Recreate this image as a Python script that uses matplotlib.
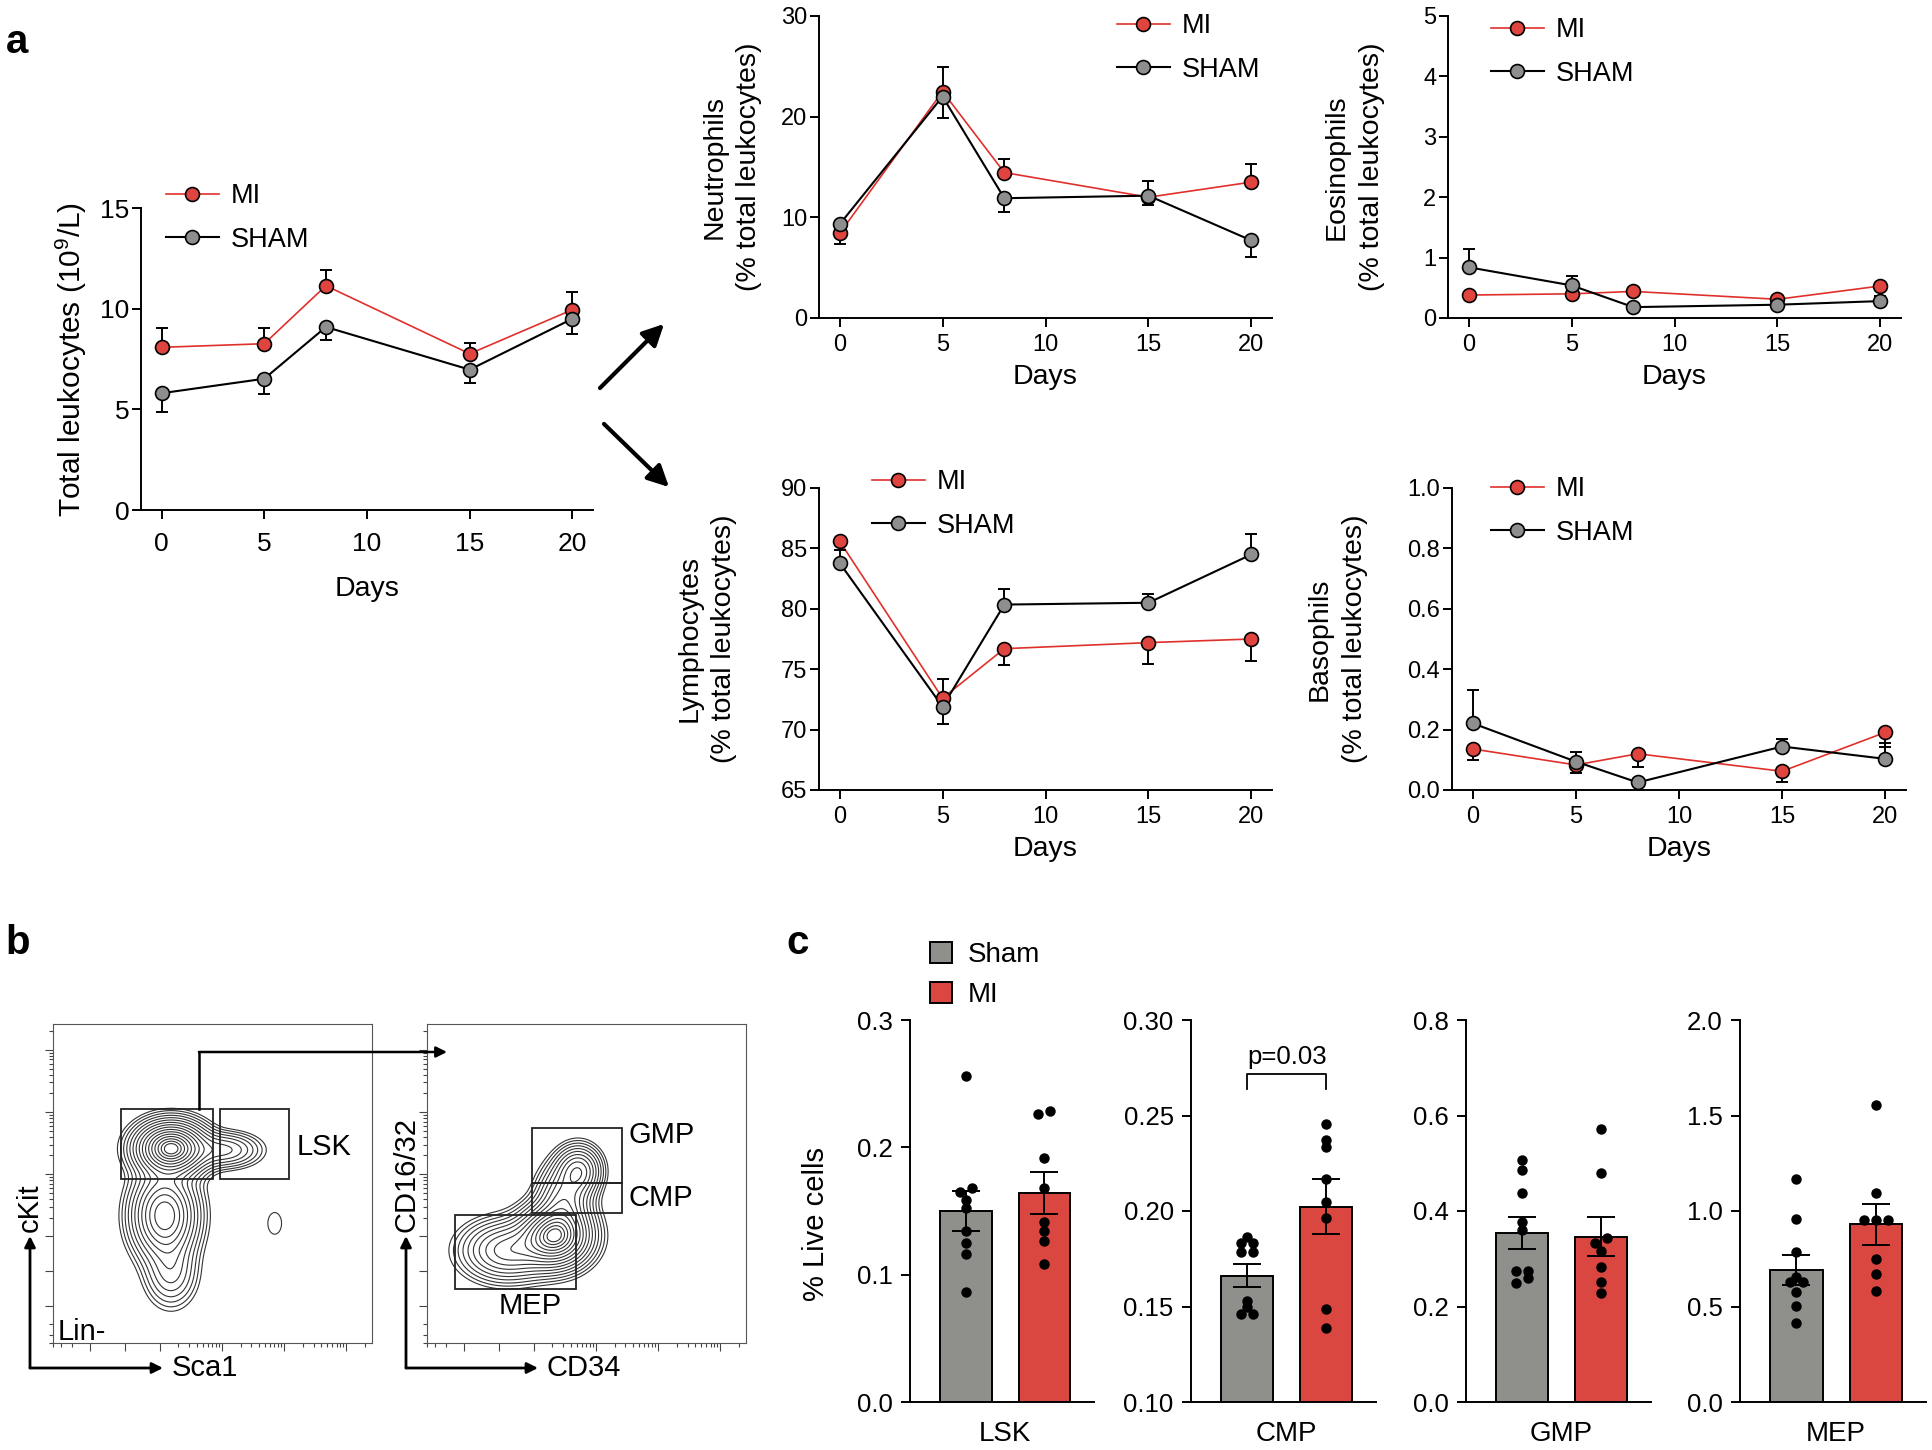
import numpy as np
import matplotlib
matplotlib.use('Agg')
import matplotlib.pyplot as plt
from matplotlib.patches import Rectangle, Patch, FancyArrowPatch
from matplotlib.lines import Line2D

plt.rcParams['font.family'] = ['Liberation Sans', 'DejaVu Sans']
plt.rcParams['mathtext.fontset'] = 'custom'
plt.rcParams['mathtext.rm'] = 'Liberation Sans'
plt.rcParams['mathtext.it'] = 'Liberation Sans:italic'

# ---------------- data ----------------
days = [0, 5, 8, 15, 20]

total_mi = [8.08, 8.26, 11.14, 7.76, 9.95]
total_mi_lo = [0, 0, 0, 0, 0]
total_mi_hi = [0.94, 0.76, 0.80, 0.52, 0.90]
total_sham = [5.80, 6.52, 9.09, 6.97, 9.50]
total_sham_lo = [0.94, 0.77, 0.65, 0.67, 0.74]
total_sham_hi = [0, 0, 0, 0, 0]

neut_mi = [8.4, 22.5, 14.45, 12.0, 13.5]
neut_mi_lo = [1.0, 0, 0, 0.8, 0]
neut_mi_hi = [0, 2.4, 1.3, 0, 1.8]
neut_sham = [9.3, 22.0, 11.9, 12.15, 7.7]
neut_sham_lo = [0, 2.1, 1.36, 0, 1.65]
neut_sham_hi = [0, 0, 0, 1.5, 0]

eos_mi = [0.38, 0.40, 0.44, 0.31, 0.53]
eos_mi_lo = [0, 0, 0, 0, 0]
eos_mi_hi = [0, 0, 0, 0, 0]
eos_sham = [0.84, 0.54, 0.18, 0.22, 0.28]
eos_sham_lo = [0, 0, 0, 0, 0]
eos_sham_hi = [0.31, 0.15, 0, 0, 0.09]

lym_mi = [85.6, 72.6, 76.7, 77.2, 77.5]
lym_mi_lo = [0, 0, 1.38, 1.77, 1.8]
lym_mi_hi = [0, 1.55, 0, 0, 0]
lym_sham = [83.8, 71.9, 80.35, 80.5, 84.5]
lym_sham_lo = [0, 1.4, 0, 0, 0]
lym_sham_hi = [1.1, 0, 1.27, 0.7, 1.7]

baso_mi = [0.136, 0.083, 0.12, 0.062, 0.191]
baso_mi_lo = [0.036, 0.028, 0.045, 0.037, 0.05]
baso_mi_hi = [0, 0, 0, 0, 0]
baso_sham = [0.221, 0.094, 0.025, 0.144, 0.103]
baso_sham_lo = [0, 0, 0, 0, 0]
baso_sham_hi = [0.11, 0.033, 0, 0.024, 0.052]

bar_cats = ['LSK', 'CMP', 'GMP', 'MEP']
sham_mean = [0.150, 0.1661, 0.3548, 0.692]
sham_sem = [0.016, 0.006, 0.0335, 0.078]
mi_mean = [0.164, 0.2023, 0.3464, 0.930]
mi_sem = [0.0163, 0.0142, 0.041, 0.107]
sham_dots = [
    [0.256, 0.168, 0.165, 0.159, 0.152, 0.134, 0.125, 0.116, 0.086],
    [0.1863, 0.1835, 0.1835, 0.1783, 0.1783, 0.1527, 0.1496, 0.146, 0.146],
    [0.507, 0.486, 0.437, 0.376, 0.360, 0.275, 0.275, 0.259, 0.250],
    [1.167, 0.960, 0.784, 0.657, 0.628, 0.628, 0.574, 0.501, 0.414],
]
mi_dots = [
    [0.2285, 0.2265, 0.192, 0.168, 0.1417, 0.1344, 0.1265, 0.108],
    [0.2457, 0.2374, 0.2336, 0.217, 0.2049, 0.1962, 0.1489, 0.1388],
    [0.571, 0.479, 0.344, 0.334, 0.3165, 0.2817, 0.251, 0.228],
    [1.553, 1.096, 0.953, 0.953, 0.953, 0.748, 0.671, 0.583],
]
bar_ylims = [(0, 0.3), (0.10, 0.30), (0, 0.8), (0, 2.0)]
bar_ystep = [0.1, 0.05, 0.2, 0.5]
bar_yfmt = ['%.1f', '%.2f', '%.1f', '%.1f']
p_text = 'p=0.03'

# flow cytometry populations (axes-fraction centres, spreads, weights)
lin_blobs = [  # cx, cy, sx, sy, w
    (0.37, 0.61, 0.060, 0.045, 1.00),
    (0.54, 0.605, 0.060, 0.030, 0.20),
    (0.35, 0.40, 0.055, 0.075, 0.60),
    (0.37, 0.22, 0.045, 0.060, 0.15),
    (0.695, 0.375, 0.024, 0.038, 0.030),
]
lsk_blobs = [
    (0.40, 0.335, 0.060, 0.052, 1.00),
    (0.25, 0.29, 0.075, 0.050, 0.40),
    (0.475, 0.54, 0.038, 0.042, 0.40),
    (0.43, 0.45, 0.045, 0.060, 0.35),
]
lin_gates = [(0.213, 0.514, 0.502, 0.734), (0.524, 0.514, 0.740, 0.734)]
lsk_gates = [(0.329, 0.502, 0.611, 0.674), (0.329, 0.408, 0.611, 0.502),
             (0.088, 0.169, 0.467, 0.401)]

# ---------------- style ----------------
RED = '#E0443F'
RED_LINE = '#E0302C'
GRAY = '#8E8E8E'
BAR_GRAY = '#8F8F8C'
BAR_RED = '#D94740'

W, H = 1932, 1450
fig = plt.figure(figsize=(W / 100, H / 100), dpi=100)


def rect(x0, y0, x1, y1):
    return [x0 / W, 1 - y1 / H, (x1 - x0) / W, (y1 - y0) / H]


def fx(x):
    return x / W


def fy(y):
    return 1 - y / H


def style_axes(ax):
    for s in ['top', 'right']:
        ax.spines[s].set_visible(False)
    for s in ['left', 'bottom']:
        ax.spines[s].set_linewidth(1.4)
    ax.tick_params(direction='out', length=6.5, width=1.4, color='k')


def errbars(ax, x, y, lo, hi):
    x = np.asarray(x, float); y = np.asarray(y, float)
    lo = np.asarray(lo, float); hi = np.asarray(hi, float)
    m = (lo + hi) > 0
    if m.any():
        ax.errorbar(x[m], y[m], yerr=[lo[m], hi[m]], fmt='none', ecolor='k',
                    elinewidth=1.4, capsize=4.5, capthick=1.4, zorder=3)


def line_panel(box, ylim, yticks, ylabel, mi, mi_lo, mi_hi, sh, sh_lo, sh_hi,
               leg, ylab_x, xlabpad, yfmt='%g', tsize=17, xpad=5, lsize=20.5):
    ax = fig.add_axes(rect(*box))
    style_axes(ax)
    ax.plot(days, mi, color=RED_LINE, lw=1.2, zorder=2)
    ax.plot(days, sh, color='k', lw=1.5, zorder=2)
    errbars(ax, days, mi, mi_lo, mi_hi)
    errbars(ax, days, sh, sh_lo, sh_hi)
    ax.plot(days, mi, 'o', ls='none', mfc=RED, mec='k', ms=10, mew=1.2, zorder=4)
    ax.plot(days, sh, 'o', ls='none', mfc=GRAY, mec='k', ms=10, mew=1.2, zorder=5)
    ax.set_xlim(-1, 21)
    ax.set_ylim(*ylim)
    ax.set_xticks([0, 5, 10, 15, 20])
    ax.set_yticks(yticks)
    ax.set_yticklabels([yfmt % t for t in yticks])
    ax.tick_params(axis='both', labelsize=tsize)
    ax.tick_params(axis='y', pad=2)
    ax.tick_params(axis='x', pad=xpad)
    ax.set_xlabel('Days', fontsize=20.5, labelpad=xlabpad)
    ax.set_ylabel(ylabel, fontsize=lsize, linespacing=1.45)
    ax.yaxis.set_label_coords(ylab_x, 0.5)
    h = [Line2D([], [], color=RED_LINE, lw=1.2, marker='o', mfc=RED, mec='k', ms=10, mew=1.2),
         Line2D([], [], color='k', lw=1.5, marker='o', mfc=GRAY, mec='k', ms=10, mew=1.2)]
    ax.legend(h, ['MI', 'SHAM'], loc='upper left', bbox_to_anchor=(fx(leg[0]), fy(leg[1])),
              bbox_transform=fig.transFigure, frameon=False, fontsize=19.5,
              handlelength=1.95, handletextpad=0.45, labelspacing=0.65,
              borderpad=0, borderaxespad=0, numpoints=1)
    return ax


# ---------------- panel a ----------------
line_panel((141, 208, 593, 510), (0, 15), [0, 5, 10, 15],
           r'Total leukocytes (10$^{\mathrm{9}}$/L)',
           total_mi, total_mi_lo, total_mi_hi, total_sham, total_sham_lo, total_sham_hi,
           (166, 183), -0.115, 15, tsize=19, xpad=9, lsize=21.5)
line_panel((819, 16, 1272, 318), (0, 30), [0, 10, 20, 30],
           'Neutrophils\n(% total leukocytes)',
           neut_mi, neut_mi_lo, neut_mi_hi, neut_sham, neut_sham_lo, neut_sham_hi,
           (1117, 13), -0.125, 6)
line_panel((1448, 16, 1901, 318), (0, 5), [0, 1, 2, 3, 4, 5],
           'Eosinophils\n(% total leukocytes)',
           eos_mi, eos_mi_lo, eos_mi_hi, eos_sham, eos_sham_lo, eos_sham_hi,
           (1491, 17), -0.14, 6)
line_panel((819, 488, 1272, 790), (65, 90), [65, 70, 75, 80, 85, 90],
           'Lymphocytes\n(% total leukocytes)',
           lym_mi, lym_mi_lo, lym_mi_hi, lym_sham, lym_sham_lo, lym_sham_hi,
           (872, 469), -0.18, 6)
line_panel((1452, 488, 1906, 790), (0, 1.0), [0, 0.2, 0.4, 0.6, 0.8, 1.0],
           'Basophils\n(% total leukocytes)',
           baso_mi, baso_mi_lo, baso_mi_hi, baso_sham, baso_sham_lo, baso_sham_hi,
           (1491, 476), -0.185, 6, yfmt='%.1f')

for (a, b) in [((598, 390), (666, 322)), ((602, 422), (671, 489))]:
    fig.add_artist(FancyArrowPatch((fx(a[0]), fy(a[1])), (fx(b[0]), fy(b[1])),
                                   transform=fig.transFigure, arrowstyle='-|>',
                                   mutation_scale=32, lw=3, color='k'))

# ---------------- panel b ----------------
gx = np.linspace(0, 1, 360)
GX, GY = np.meshgrid(gx, gx)
ring_r = np.linspace(2.8, 0.35, 16)


def flow_panel(box, blobs, gates):
    ax = fig.add_axes(rect(*box))
    ax.set_xscale('symlog', linthresh=100, linscale=0.5, subs=[2, 3, 4, 5, 6, 7, 8, 9])
    ax.set_yscale('symlog', linthresh=100, linscale=0.5, subs=[2, 3, 4, 5, 6, 7, 8, 9])
    Z = np.zeros_like(GX)
    for cx, cy, sx, sy, w in blobs:
        Z += w * np.exp(-((GX - cx) ** 2 / (2 * sx ** 2) + (GY - cy) ** 2 / (2 * sy ** 2)))
    levels = Z.max() * np.exp(-ring_r ** 2 / 2)
    ax.contour(GX, GY, Z, levels=levels, colors='#333333', linewidths=0.8,
               transform=ax.transAxes)
    for x0, y0, x1, y1 in gates:
        ax.add_patch(Rectangle((x0, y0), x1 - x0, y1 - y0, transform=ax.transAxes,
                               fill=False, ec='#222222', lw=1.3, zorder=5))
    ax.set_xlim(-400, 2.6e5)
    ax.set_ylim(-400, 2.6e5)
    ax.tick_params(which='both', direction='out', top=False, right=False,
                   labelbottom=False, labelleft=False, color='#444444', width=0.8)
    ax.tick_params(which='major', length=6)
    ax.tick_params(which='minor', length=3)
    for s in ax.spines.values():
        s.set_linewidth(0.8)
        s.set_color('#555555')
    return ax


axL = flow_panel((53, 1024, 372, 1343), lin_blobs, lin_gates)
axR = flow_panel((427, 1024, 746, 1343), lsk_blobs, lsk_gates)
axL.text(0.765, 0.614, 'LSK', transform=axL.transAxes, fontsize=21, va='center', ha='left')
axL.text(0.015, 0.035, 'Lin-', transform=axL.transAxes, fontsize=21, va='center', ha='left')
axR.text(0.633, 0.652, 'GMP', transform=axR.transAxes, fontsize=21, va='center', ha='left')
axR.text(0.633, 0.455, 'CMP', transform=axR.transAxes, fontsize=21, va='center', ha='left')
axR.text(0.323, 0.115, 'MEP', transform=axR.transAxes, fontsize=21, va='center', ha='center')

# axis arrows and names
for x0, xe, ye, xn, yn in [(30, 163, 1236, 'Sca1', 'cKit'), (406, 538, 1236, 'CD34', 'CD16/32')]:
    fig.add_artist(FancyArrowPatch((fx(x0), fy(1368)), (fx(xe), fy(1368)), transform=fig.transFigure,
                                   arrowstyle='-|>', mutation_scale=16, lw=2, color='k',
                                   shrinkA=0, shrinkB=0))
    fig.add_artist(FancyArrowPatch((fx(x0), fy(1368)), (fx(x0), fy(ye)), transform=fig.transFigure,
                                   arrowstyle='-|>', mutation_scale=16, lw=2, color='k',
                                   shrinkA=0, shrinkB=0))
    fig.text(fx(xe + 9), fy(1368), xn, fontsize=21, ha='left', va='center')
    fig.text(fx(x0), fy(ye - 4), yn, fontsize=21, ha='center', va='bottom', rotation=90)

# gate arrow
fig.add_artist(Line2D([fx(199), fx(199)], [fy(1109), fy(1052)], transform=fig.transFigure,
                      color='k', lw=1.8))
fig.add_artist(FancyArrowPatch((fx(199), fy(1052)), (fx(447), fy(1052)), transform=fig.transFigure,
                               arrowstyle='-|>', mutation_scale=16, lw=1.8, color='k',
                               shrinkA=0, shrinkB=0))

# ---------------- panel c ----------------
bar_boxes = [(910, 1020, 1094, 1402), (1191, 1020, 1376, 1402),
             (1466, 1020, 1651, 1402), (1740, 1020, 1926, 1402)]


def swarm_offsets(vals, span, h_px, step, tol_px=5.0):
    vals = np.asarray(vals, float)
    order = np.argsort(-vals, kind='stable')
    tol = tol_px / h_px * span
    clusters = []
    for i in order:
        if clusters and abs(vals[clusters[-1][0]] - vals[i]) <= tol:
            clusters[-1].append(i)
        else:
            clusters.append([i])
    offs = np.zeros(len(vals))
    for c in clusters:
        n = len(c)
        for k, i in enumerate(c):
            offs[i] = ((n - 1) / 2 - k) * step
    return offs


bar_axes = []
for j, box in enumerate(bar_boxes):
    ax = fig.add_axes(rect(*box))
    style_axes(ax)
    y0, y1 = bar_ylims[j]
    ax.bar([0, 1], [sham_mean[j], mi_mean[j]], width=0.66, color=[BAR_GRAY, BAR_RED],
           edgecolor='k', linewidth=1.4, zorder=1)
    ax.errorbar([0, 1], [sham_mean[j], mi_mean[j]], yerr=[sham_sem[j], mi_sem[j]], fmt='none',
                ecolor='k', elinewidth=1.4, capsize=10, capthick=1.4, zorder=3)
    hpx = box[3] - box[1]
    step = 12 / 78.5
    for xc, dots in [(0, sham_dots[j]), (1, mi_dots[j])]:
        offs = swarm_offsets(dots, y1 - y0, hpx, step)
        ax.plot(xc + offs, dots, 'o', ls='none', color='k', ms=6.5, zorder=4)
    ax.set_xlim(-0.71, 1.63)
    ax.set_ylim(y0, y1)
    ticks = np.arange(y0, y1 + 1e-9, bar_ystep[j])
    ax.set_yticks(ticks)
    ax.set_yticklabels([bar_yfmt[j] % t for t in ticks])
    ax.set_xticks([0.5])
    ax.set_xticklabels([bar_cats[j]])
    ax.tick_params(axis='x', length=0, labelsize=20, pad=14)
    ax.tick_params(axis='y', labelsize=18.5, pad=6)
    bar_axes.append(ax)

bar_axes[0].set_ylabel('% Live cells', fontsize=21)
bar_axes[0].yaxis.set_label_coords(-0.435, 0.465)

axc = bar_axes[1]
axc.plot([0, 0, 1, 1], [0.264, 0.2718, 0.2718, 0.264], color='k', lw=1.3)
axc.text(0.5, 0.2742, p_text, ha='center', va='bottom', fontsize=18.5)

fig.legend(handles=[Patch(fc=BAR_GRAY, ec='k', lw=1.4), Patch(fc=BAR_RED, ec='k', lw=1.4)],
           labels=['Sham', 'MI'], loc='upper left', bbox_to_anchor=(fx(930), fy(942)),
           frameon=False, fontsize=20, handlelength=0.8, handleheight=0.8,
           handletextpad=0.55, labelspacing=0.5, borderpad=0, borderaxespad=0)

# panel letters
for t, x, y in [('a', 17, 42), ('b', 18, 943), ('c', 798, 943)]:
    fig.text(fx(x), fy(y), t, fontsize=29, fontweight='bold', ha='center', va='center')

fig.savefig('out.png', dpi=100)
